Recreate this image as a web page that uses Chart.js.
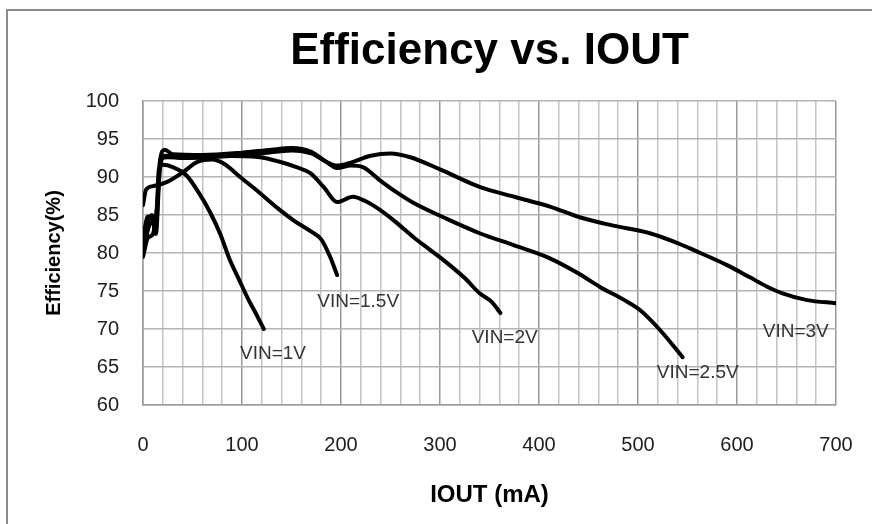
<!DOCTYPE html>
<html>
<head>
<meta charset="utf-8">
<script src="https://cdn.jsdelivr.net/npm/chart.js@4.4.1/dist/chart.umd.min.js"></script>
<style>
  html, body { margin: 0; padding: 0; background: #fff; }
  #wrap { position: relative; width: 872px; height: 524px; overflow: hidden; }
  #frame { position: absolute; left: 6px; top: 9px; width: 1000px; height: 1000px;
           border-left: 2px solid #8c8c8c; border-top: 2px solid #8c8c8c; }
  canvas { position: absolute; left: 0; top: 0; }
</style>
</head>
<body>
<div id="wrap">
  <div id="frame"></div>
  <canvas id="myChart" width="872" height="524"></canvas>
</div>
<script>
// x = IOUT (mA), y = efficiency (%)
var vin1 = [[0, 80], [6, 83.5], [10, 84], [13, 83], [16, 91], [20, 91.6], [30, 91.3], [44, 90.2],
  [56, 88], [68, 85.3], [78, 82.5], [88, 79], [97, 76.5], [106, 74], [115, 71.8], [122, 70]];
var vin15 = [[0, 86.3], [3, 88.3], [10, 88.8], [25, 89.4], [40, 90.6], [55, 92], [70, 92.3], [81, 91.8],
  [100, 89.8], [118, 87.9], [135, 86], [152, 84.3], [170, 82.8], [180, 81.8], [189, 79.5], [196, 77.1]];
var vin2 = [[0, 82], [5, 84.8], [10, 84.3], [13, 82.5], [17, 91], [22, 92.8], [40, 92.5], [80, 92.8],
  [118, 92.6], [138, 92], [155, 91.3], [169, 90.5], [183, 88.6], [196, 86.7], [212, 87.4],
  [225, 86.8], [239, 85.7], [256, 84], [273, 82.1], [290, 80.4], [307, 78.7], [325, 76.7],
  [340, 74.7], [352, 73.6], [361, 72.1]];
var vin25 = [[0, 81], [5, 84], [9, 85], [13, 83.5], [17, 92], [22, 93.6], [30, 93], [60, 92.9],
  [100, 93.2], [130, 93.6], [150, 93.8], [170, 93.3], [185, 92], [196, 91.2], [210, 91.5],
  [222, 91.3], [239, 89.6], [256, 88], [273, 86.6], [305, 84.6], [340, 82.6], [375, 81],
  [411, 79.3], [440, 77.3], [462, 75.5], [485, 73.9], [502, 72.5], [522, 69.9], [545, 66.3]];
var vin3 = [[0, 79.5], [5, 82], [10, 82.5], [14, 86], [18, 92.4], [25, 92.6], [40, 92.5], [80, 92.7],
  [120, 93.1], [150, 93.5], [170, 93.1], [185, 92], [196, 91.5], [210, 91.9], [230, 92.8],
  [250, 93.1], [270, 92.6], [300, 91], [340, 88.7], [375, 87.4], [411, 86.1], [441, 84.7],
  [475, 83.6], [512, 82.6], [540, 81.3], [563, 80], [590, 78.4], [613, 76.8], [630, 75.6],
  [646, 74.7], [671, 73.8], [700, 73.4]];

var seriesNames = ['VIN=1V', 'VIN=1.5V', 'VIN=2V', 'VIN=2.5V', 'VIN=3V'];
var seriesData = [vin1, vin15, vin2, vin25, vin3];
// where each series name is written (data units, left edge / middle)
var labelX = [98, 176, 332, 519, 626];
var labelY = [66.8, 73.6, 68.9, 64.2, 69.7];

var xTicks = [0, 100, 200, 300, 400, 500, 600, 700];
var yTicks = [60, 65, 70, 75, 80, 85, 90, 95, 100];

var seriesLabels = {
  id: 'seriesLabels',
  afterDatasetsDraw: function(chart) {
    var c = chart.ctx, xs = chart.scales.x, ys = chart.scales.y;
    c.save();
    c.font = '19px "Liberation Sans", Arial, sans-serif';
    c.fillStyle = '#333';
    c.textAlign = 'left';
    c.textBaseline = 'middle';
    for (var i = 0; i < seriesNames.length; i++) {
      c.fillText(seriesNames[i], xs.getPixelForValue(labelX[i]), ys.getPixelForValue(labelY[i]));
    }
    c.restore();
  }
};

var ctx = document.getElementById('myChart').getContext('2d');
var chart = new Chart(ctx, {
  type: 'line',
  data: {
    datasets: seriesData.map(function(d, i) {
      return {
        label: seriesNames[i],
        data: d.map(function(p) { return {x: p[0], y: p[1]}; }),
        borderColor: '#000',
        backgroundColor: 'transparent',
        borderWidth: 4,
        pointRadius: 0,
        cubicInterpolationMode: 'monotone',
        borderCapStyle: 'round',
        borderJoinStyle: 'round'
      };
    })
  },
  options: {
    responsive: false,
    animation: false,
    layout: { padding: { left: 0, right: 36, top: 0, bottom: 0 } },
    plugins: {
      legend: { display: false },
      tooltip: { enabled: false },
      title: {
        display: true,
        text: 'Efficiency vs. IOUT',
        fullSize: false,
        color: '#000',
        font: { family: '"Liberation Sans", Arial, sans-serif', size: 44, weight: 'bold', lineHeight: 1 },
        padding: { top: 30, bottom: 27 }
      }
    },
    scales: {
      x: {
        type: 'linear',
        min: 0,
        max: 700,
        afterFit: function(s) { s.height = 119; s.paddingRight = 0; s.paddingLeft = 0; },
        ticks: {
          stepSize: 20,
          autoSkip: false,
          maxRotation: 0,
          padding: 28,
          color: '#202020',
          font: { family: '"Liberation Sans", Arial, sans-serif', size: 20 },
          callback: function(v) { return xTicks.indexOf(v) >= 0 ? v : ''; }
        },
        grid: {
          drawTicks: false,
          lineWidth: 1.5,
          color: function(c) { return c.tick && c.tick.value % 100 === 0 ? '#9a9a9a' : '#c4c4c4'; }
        },
        border: { color: '#9a9a9a', width: 1.5 },
        title: {
          display: true,
          text: 'IOUT (mA)',
          color: '#000',
          font: { family: '"Liberation Sans", Arial, sans-serif', size: 24, weight: 'bold' },
          padding: { top: 0, bottom: 14 }
        }
      },
      y: {
        min: 60,
        max: 100,
        afterFit: function(s) { s.width = 143; s.paddingTop = 0; s.paddingBottom = 0; },
        ticks: {
          stepSize: 5,
          padding: 24,
          color: '#202020',
          font: { family: '"Liberation Sans", Arial, sans-serif', size: 20 },
          callback: function(v) { return yTicks.indexOf(v) >= 0 ? v : ''; }
        },
        grid: { drawTicks: false, lineWidth: 1.5, color: '#b4b4b4' },
        border: { color: '#9a9a9a', width: 1.5 },
        title: {
          display: true,
          text: 'Efficiency(%)',
          color: '#000',
          font: { family: '"Liberation Sans", Arial, sans-serif', size: 20, weight: 'bold' },
          padding: { top: 42, bottom: 0 }
        }
      }
    }
  },
  plugins: [seriesLabels]
});
</script>
</body>
</html>
